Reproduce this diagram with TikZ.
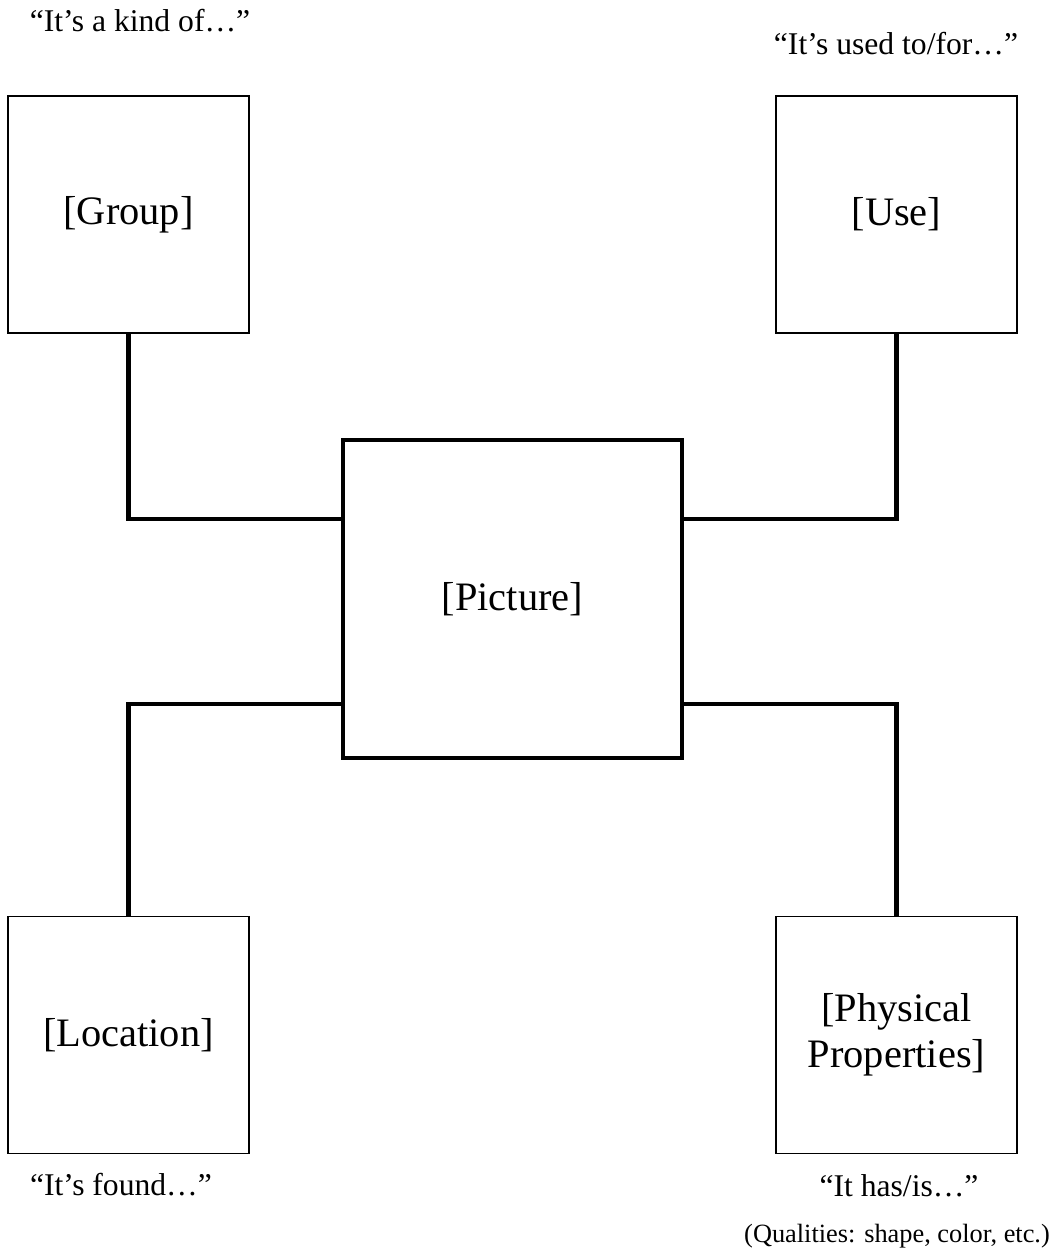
\documentclass[tikz,border=0pt]{standalone}
\usepackage{fontspec}
\setmainfont{Liberation Serif}
\usetikzlibrary{positioning}
\tikzset{
  box/.style={draw, line width=0.85pt, minimum width=4.82cm, minimum height=4.74cm,
    inner sep=0pt, outer sep=0pt, align=center, font=\fontsize{23}{26}\selectfont},
  mainbox/.style={box, line width=2.4pt, minimum width=6.78cm, minimum height=6.36cm},
  link/.style={line width=2.4pt},
  say/.style={anchor=base, font=\fontsize{18}{21}\selectfont},
}
\begin{document}
\begin{tikzpicture}[x=0.02cm, y=-0.02cm]
		\useasboundingbox (0,0) rectangle (1062,1253);
		\node [mainbox] (picture) at (512.5,599) {[Picture]};
		\node [box] (group) at (128.5,214.5) {[Group]};
		\node [box] (use) at (896.5,214.5) {[Use]};
		\node [box] (location) at (128.5,1035) {[Location]};
		\node [box] (physical) at (896.5,1035) {[Physical\\Properties]};
		\draw [link] (group.south) |- ([yshift=1.6cm]picture.west);
		\draw [link] (use.south) |- ([yshift=1.6cm]picture.east);
		\draw [link] (location.north) |- ([yshift=-2.1cm]picture.west);
		\draw [link] (physical.north) |- ([yshift=-2.1cm]picture.east);
		\node [say] (kind) at (140,32) {“It’s a kind of…”};
		\node [say] (usedfor) at (896,55) {“It’s used to/for…”};
		\node [say] (found) at (121,1195) {“It’s found…”};
		\node [say] (hasis) at (899,1196) {“It has/is…”};
		\node [anchor=base east, font=\fontsize{15}{18}\selectfont] (qualities) at (1056,1242) {(Qualities: shape, color, etc.)};
\end{tikzpicture}
\end{document}
